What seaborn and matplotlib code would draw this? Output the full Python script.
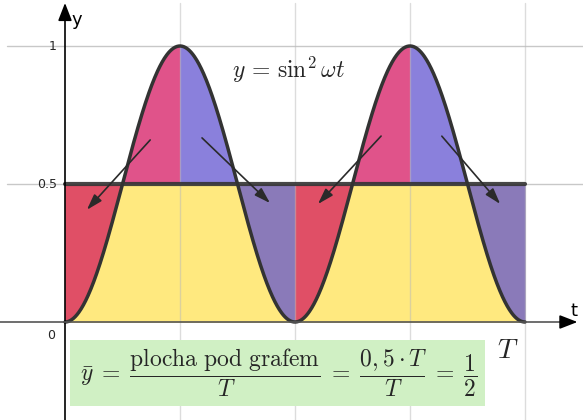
import numpy as np
import pandas as pd
import matplotlib
matplotlib.use("Agg")
import matplotlib.pyplot as plt
from matplotlib.patches import Rectangle
import seaborn as sns

sns.set_theme(style="white")
plt.rcParams["font.family"] = ["DejaVu Sans"]
plt.rcParams["mathtext.fontset"] = "cm"

# y = sin^2(omega t), one unit of t = one grid step, period of sin^2 = 2 steps
omega = np.pi / 2
t_end = 4.0
mean_level = 0.5
y_ticks = [0, 0.5, 1]
y_tick_labels = ["0", "0.5", "1"]
x_grid = [1, 2, 3, 4]

# arrows moving the area above the mean into the gaps below it
arrow_starts_x = [0.757, 1.174, 2.765, 3.261]
arrow_starts_y = [0.667, 0.674, 0.681, 0.681]
arrow_ends_x = [0.174, 1.800, 2.183, 3.800]
arrow_ends_y = [0.399, 0.424, 0.420, 0.420]

t = np.linspace(0, t_end, 801)
y = np.sin(omega * t) ** 2
df = pd.DataFrame({"t": t, "y": y})

c_yellow = "#ffe97f"
c_red = "#e04f66"
c_pink = "#e0538a"
c_blue = "#8a80dc"
c_purple = "#8a7ab9"

fig = plt.figure(figsize=(5.83, 4.20), dpi=100)
ax = fig.add_axes([0, 0, 1, 1])

# areas
ax.fill_between(t, 0, np.minimum(y, mean_level), color=c_yellow, lw=0.5, ec=c_yellow, zorder=1)
for k in range(int(t_end)):
    m = (t >= k) & (t <= k + 1)
    ts, ys = t[m], y[m]
    below_c, above_c = (c_red, c_pink) if k % 2 == 0 else (c_purple, c_blue)
    ax.fill_between(ts, ys, mean_level, where=ys <= mean_level, interpolate=True,
                    color=below_c, ec=below_c, lw=0.5, zorder=1)
    ax.fill_between(ts, mean_level, ys, where=ys >= mean_level, interpolate=True,
                    color=above_c, ec=above_c, lw=0.5, zorder=1)

# mean level and curve
ax.plot([0, t_end], [mean_level, mean_level], color="#333333", lw=3, alpha=0.9, zorder=5)
sns.lineplot(data=df, x="t", y="y", ax=ax, color="#333333", lw=2.5, zorder=6, legend=False)

ax.set_xlim(-65 / 115, (583 - 65) / 115)
ax.set_ylim(-98 / 276, 322 / 276)
ax.axis("off")

# grid
for gx in x_grid:
    ax.plot([gx, gx], [-1, 1.155], color="#bbbbbb", lw=1, alpha=0.5, zorder=3)
for gy in [0.5, 1.0]:
    ax.plot([-0.5, 5], [gy, gy], color="#bbbbbb", lw=1, alpha=0.8, zorder=3)

# axes with arrow heads
ax.plot([0.0, 0.0], [-1, 1.10], color="black", lw=1.2, zorder=7)
ax.annotate("", xy=(0.0, 1.166), xytext=(0.0, 1.09),
            arrowprops=dict(arrowstyle="-|>,head_length=0.9,head_width=0.35", color="black", lw=1.2), zorder=8)
ax.plot([-1, 4.40], [0, 0], color="#555555", lw=1.2, zorder=7)
ax.annotate("", xy=(4.48, 0), xytext=(4.38, 0),
            arrowprops=dict(arrowstyle="-|>,head_length=0.9,head_width=0.35", color="black", lw=1.2), zorder=8)
ax.text(0.06, 1.095, "y", fontsize=13, ha="left", va="center", color="black")
ax.text(4.43, 0.04, "t", fontsize=13, ha="center", va="center", color="black")

for v, lab in zip(y_ticks, y_tick_labels):
    if v == 0:
        ax.text(-0.09, -0.05, lab, fontsize=9, ha="right", va="center")
    else:
        ax.text(-0.07, v, lab, fontsize=9, ha="right", va="center")

# arrows
for x0, y0, x1, y1 in zip(arrow_starts_x, arrow_starts_y, arrow_ends_x, arrow_ends_y):
    ax.annotate("", xy=(x1, y1), xytext=(x0, y0),
                arrowprops=dict(arrowstyle="-|>,head_length=0.8,head_width=0.25",
                                color="#2a2a2a", lw=1.2), zorder=9)

ax.text(1.94, 0.915, r"$y \,=\, \sin^2 \omega t$", fontsize=17, ha="center", va="center", zorder=9)

# mean value box
ax.add_patch(Rectangle(((70 - 65) / 115, (322 - 406) / 276), 415 / 115, 66 / 276,
                       facecolor="#d0f0c4", edgecolor="none", zorder=9))
ax.text((279 - 65) / 115, (322 - 373) / 276,
        r"$\bar{y} \;=\; \dfrac{\mathrm{plocha\ pod\ grafem}}{T} \;=\; \dfrac{0,5\cdot T}{T} \;=\; \dfrac{1}{2}$",
        fontsize=17, ha="center", va="center", zorder=10)
ax.text((508 - 65) / 115, (322 - 350) / 276, r"$T$", fontsize=20, ha="center", va="center", zorder=10)

fig.savefig("out.png", dpi=100)
